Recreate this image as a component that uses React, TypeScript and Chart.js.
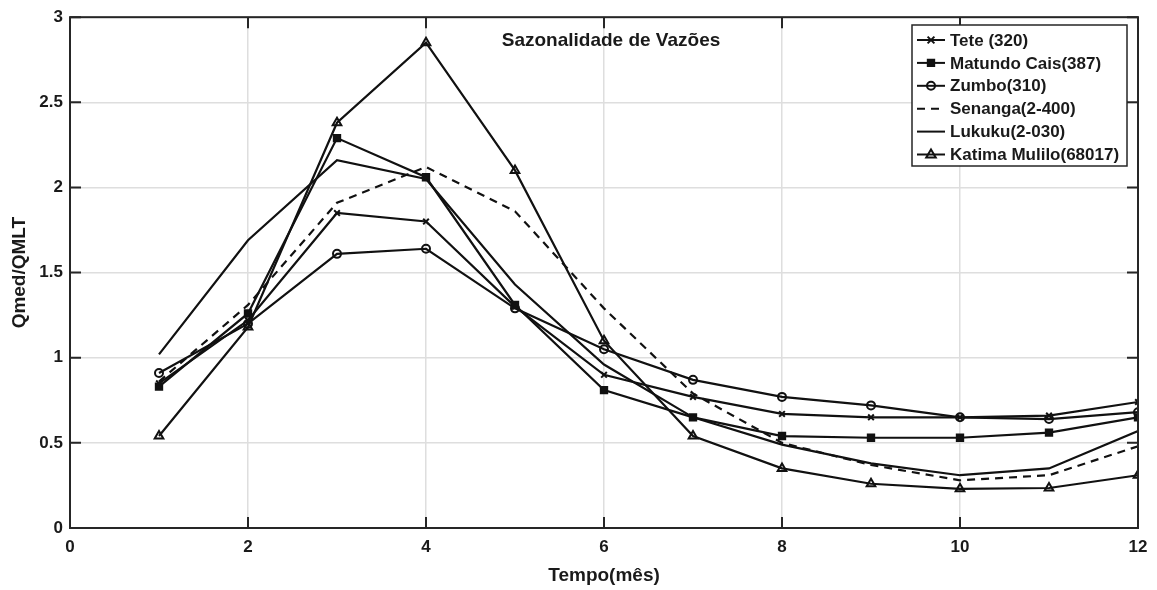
import React, { useEffect, useRef } from "react";
import { Chart, registerables } from "chart.js";

Chart.register(...registerables);

// Months on the horizontal axis
const months = [1, 2, 3, 4, 5, 6, 7, 8, 9, 10, 11, 12];

// Qmed/QMLT ratio for each gauging station
const tete = [0.85, 1.22, 1.85, 1.80, 1.30, 0.90, 0.77, 0.67, 0.65, 0.65, 0.66, 0.74];
const matundoCais = [0.83, 1.26, 2.29, 2.06, 1.31, 0.81, 0.65, 0.54, 0.53, 0.53, 0.56, 0.65];
const zumbo = [0.91, 1.20, 1.61, 1.64, 1.29, 1.05, 0.87, 0.77, 0.72, 0.65, 0.64, 0.68];
const senanga = [0.86, 1.31, 1.91, 2.12, 1.86, 1.29, 0.79, 0.50, 0.37, 0.28, 0.31, 0.48];
const lukuku = [1.02, 1.69, 2.16, 2.05, 1.43, 0.96, 0.65, 0.49, 0.38, 0.31, 0.35, 0.57];
const katimaMulilo = [0.54, 1.18, 2.38, 2.85, 2.10, 1.10, 0.54, 0.35, 0.26, 0.23, 0.235, 0.31];

const seriesLabels = [
  "Tete (320)",
  "Matundo Cais(387)",
  "Zumbo(310)",
  "Senanga(2-400)",
  "Lukuku(2-030)",
  "Katima Mulilo(68017)",
];

const xTicks = [0, 2, 4, 6, 8, 10, 12];
const yTicks = [0, 0.5, 1, 1.5, 2, 2.5, 3];

const chartTitle = "Sazonalidade de Vazões";
const xTitle = "Tempo(mês)";
const yTitle = "Qmed/QMLT";

const INK = "#111111";
const AXIS = "#262626";
const GRID = "#dedede";
const TEXT = "#1a1a1a";
const FONT = "'Liberation Sans', Arial, Helvetica, sans-serif";

type Marker = {
  style: false | "crossRot" | "rect" | "circle" | "triangle";
  radius: number;
  fill: string;
  dash: number[];
};

const markers: Marker[] = [
  { style: "crossRot", radius: 4, fill: "rgba(0,0,0,0)", dash: [] },
  { style: "rect", radius: 4.5, fill: INK, dash: [] },
  { style: "circle", radius: 4, fill: "rgba(0,0,0,0)", dash: [] },
  { style: false, radius: 0, fill: "rgba(0,0,0,0)", dash: [8, 6] },
  { style: false, radius: 0, fill: "rgba(0,0,0,0)", dash: [] },
  { style: "triangle", radius: 5, fill: "rgba(0,0,0,0)", dash: [] },
];

const seriesValues = [tete, matundoCais, zumbo, senanga, lukuku, katimaMulilo];

function drawMarker(ctx: CanvasRenderingContext2D, style: string, r: number, x: number, y: number, fill: string) {
  ctx.save();
  ctx.strokeStyle = INK;
  ctx.fillStyle = fill;
  ctx.lineWidth = 2;
  ctx.setLineDash([]);
  ctx.beginPath();
  if (style === "crossRot") {
    const d = r * 0.85;
    ctx.moveTo(x - d, y - d);
    ctx.lineTo(x + d, y + d);
    ctx.moveTo(x - d, y + d);
    ctx.lineTo(x + d, y - d);
    ctx.stroke();
  } else if (style === "rect") {
    const s = r * Math.SQRT1_2;
    ctx.rect(x - s, y - s, 2 * s, 2 * s);
    ctx.fill();
    ctx.stroke();
  } else if (style === "circle") {
    ctx.arc(x, y, r, 0, Math.PI * 2);
    ctx.fill();
    ctx.stroke();
  } else if (style === "triangle") {
    ctx.moveTo(x, y - r);
    ctx.lineTo(x + r * 0.95, y + r * 0.6);
    ctx.lineTo(x - r * 0.95, y + r * 0.6);
    ctx.closePath();
    ctx.fill();
    ctx.stroke();
  }
  ctx.restore();
}

// Box with inward ticks, titles and an in-axes legend
const framePlugin = {
  id: "frame",
  afterDraw(chart: any) {
    const { ctx, chartArea } = chart;
    const { left, right, top, bottom } = chartArea;
    const xs = chart.scales.x;
    const ys = chart.scales.y;
    const tick = 11;
    ctx.save();
    ctx.strokeStyle = AXIS;
    ctx.lineWidth = 2;
    ctx.setLineDash([]);
    ctx.strokeRect(left, top, right - left, bottom - top);
    ctx.beginPath();
    for (const v of xTicks) {
      const px = xs.getPixelForValue(v);
      ctx.moveTo(px, bottom);
      ctx.lineTo(px, bottom - tick);
      ctx.moveTo(px, top);
      ctx.lineTo(px, top + tick);
    }
    for (const v of yTicks) {
      const py = ys.getPixelForValue(v);
      ctx.moveTo(left, py);
      ctx.lineTo(left + tick, py);
      ctx.moveTo(right, py);
      ctx.lineTo(right - tick, py);
    }
    ctx.stroke();

    // chart title inside the axes
    ctx.fillStyle = TEXT;
    ctx.font = `bold 19px ${FONT}`;
    ctx.textAlign = "center";
    ctx.textBaseline = "middle";
    ctx.fillText(chartTitle, 611, 41);

    // axis titles
    ctx.font = `bold 19px ${FONT}`;
    ctx.fillText(xTitle, (left + right) / 2, 576);
    ctx.save();
    ctx.translate(20, (top + bottom) / 2);
    ctx.rotate(-Math.PI / 2);
    ctx.fillText(yTitle, 0, 0);
    ctx.restore();

    // legend
    const bx = 912;
    const by = 25;
    const bw = 215;
    const bh = 141;
    ctx.fillStyle = "#ffffff";
    ctx.fillRect(bx, by, bw, bh);
    ctx.strokeStyle = AXIS;
    ctx.lineWidth = 1.5;
    ctx.strokeRect(bx, by, bw, bh);
    ctx.font = `bold 17px ${FONT}`;
    ctx.textAlign = "left";
    ctx.textBaseline = "middle";
    seriesLabels.forEach((label, i) => {
      const cy = 40 + i * 22.9;
      const m = markers[i];
      ctx.strokeStyle = INK;
      ctx.lineWidth = 2;
      ctx.setLineDash(m.dash);
      ctx.beginPath();
      ctx.moveTo(917, cy);
      ctx.lineTo(945, cy);
      ctx.stroke();
      ctx.setLineDash([]);
      if (m.style) drawMarker(ctx, m.style, m.radius, 931, cy, m.fill);
      ctx.fillStyle = TEXT;
      ctx.fillText(label, 950, cy + 1);
    });
    ctx.restore();
  },
};

export default function App() {
  const canvasRef = useRef<HTMLCanvasElement | null>(null);

  useEffect(() => {
    const canvas = canvasRef.current;
    if (!canvas) return;

    const datasets = seriesValues.map((vals, i) => {
      const m = markers[i];
      return {
        label: seriesLabels[i],
        data: months.map((mo, j) => ({ x: mo, y: vals[j] })),
        borderColor: INK,
        backgroundColor: m.fill,
        borderWidth: 2.2,
        borderDash: m.dash,
        pointStyle: m.style,
        pointRadius: m.style ? m.radius : 0,
        pointBorderWidth: 2,
        pointBorderColor: INK,
        pointBackgroundColor: m.fill,
        tension: 0,
        fill: false,
      };
    });

    const chart = new Chart(canvas, {
      type: "line",
      data: { datasets },
      options: {
        responsive: false,
        animation: false,
        layout: { padding: { left: 0, right: 19, top: 12, bottom: 0 } },
        plugins: {
          legend: { display: false },
          title: { display: false },
          tooltip: { enabled: false },
        },
        scales: {
          x: {
            type: "linear",
            min: 0,
            max: 12,
            afterFit: (s: any) => {
              s.height = 62;
            },
            afterBuildTicks: (s: any) => {
              s.ticks = xTicks.map((v) => ({ value: v }));
            },
            grid: { color: GRID, lineWidth: 1.5, drawTicks: false },
            border: { display: false },
            ticks: {
              color: TEXT,
              font: { family: FONT, size: 17, weight: "bold" },
              padding: 9,
              maxRotation: 0,
              callback: (v: any) => String(v),
            },
          },
          y: {
            type: "linear",
            min: 0,
            max: 3,
            afterFit: (s: any) => {
              s.width = 70;
            },
            afterBuildTicks: (s: any) => {
              s.ticks = yTicks.map((v) => ({ value: v }));
            },
            grid: { color: GRID, lineWidth: 1.5, drawTicks: false },
            border: { display: false },
            ticks: {
              color: TEXT,
              font: { family: FONT, size: 17, weight: "bold" },
              padding: 7,
              callback: (v: any) => String(v),
            },
          },
        },
      },
      plugins: [framePlugin],
    } as any);

    return () => {
      chart.destroy();
    };
  }, []);

  return (
    <div style={{ position: "fixed", left: 0, top: 0, width: 1157, height: 590, background: "#fff" }}>
      <canvas ref={canvasRef} width={1157} height={590} style={{ display: "block" }} />
    </div>
  );
}
